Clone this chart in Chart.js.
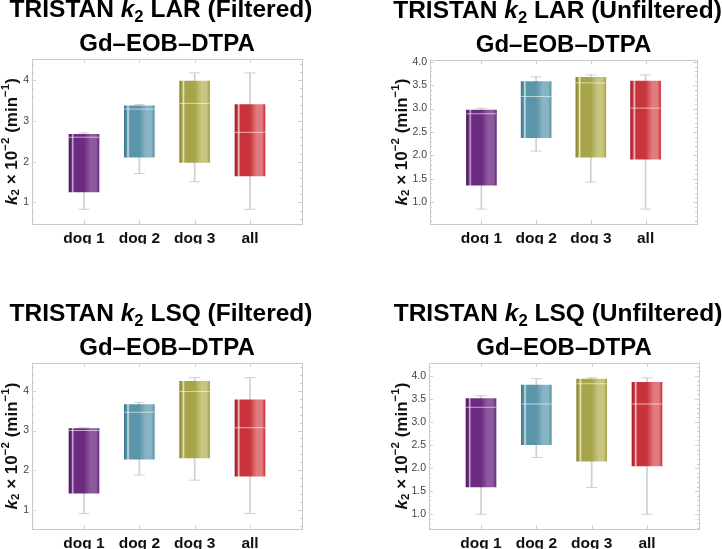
<!DOCTYPE html>
<html>
<head>
<meta charset="utf-8">
<script src="https://cdn.jsdelivr.net/npm/chart.js@4.4.1/dist/chart.umd.min.js"></script>
<style>
  body { margin: 0; background: #fff; }
  canvas { position: absolute; }
</style>
</head>
<body>
<canvas id="c1" width="361" height="275" style="left:0;top:0"></canvas>
<canvas id="c2" width="361" height="275" style="left:361px;top:0"></canvas>
<canvas id="c3" width="361" height="274" style="left:0;top:275px"></canvas>
<canvas id="c4" width="361" height="274" style="left:361px;top:275px"></canvas>
<script>
// categories and box-plot summaries (k2 x 10^-2, min^-1)
const categories = ["dog 1", "dog 2", "dog 3", "all"];
const catPos = [1, 2, 3, 4];

const larFilMin = [0.83, 1.71, 1.51, 0.83];
const larFilQ1  = [1.26, 2.11, 1.98, 1.65];
const larFilMed = [2.60, 3.29, 3.43, 2.72];
const larFilQ3  = [2.67, 3.37, 3.98, 3.40];
const larFilMax = [2.71, 3.40, 4.18, 4.18];

const larUnfMin = [0.85, 2.09, 1.43, 0.85];
const larUnfQ1  = [1.36, 2.38, 1.96, 1.92];
const larUnfMed = [2.89, 3.26, 3.55, 3.01];
const larUnfQ3  = [2.97, 3.58, 3.67, 3.59];
const larUnfMax = [3.01, 3.68, 3.72, 3.72];

const lsqFilMin = [0.91, 1.88, 1.75, 0.91];
const lsqFilQ1  = [1.42, 2.28, 2.31, 1.85];
const lsqFilMed = [3.00, 3.46, 3.98, 3.07];
const lsqFilQ3  = [3.05, 3.65, 4.24, 3.77];
const lsqFilMax = [3.07, 3.71, 4.33, 4.33];

const lsqUnfMin = [1.00, 2.23, 1.58, 1.00];
const lsqUnfQ1  = [1.59, 2.51, 2.15, 2.05];
const lsqUnfMed = [3.32, 3.39, 3.83, 3.39];
const lsqUnfQ3  = [3.51, 3.80, 3.93, 3.86];
const lsqUnfMax = [3.57, 3.94, 3.96, 3.96];

const ticksWhole = [1, 2, 3, 4];
const ticksHalf = [1.0, 1.5, 2.0, 2.5, 3.0, 3.5, 4.0];

const FONT = '"Liberation Sans", Arial, sans-serif';
const palettes = [
    { dark: "#4e1a62", base: "#6c2a80", light: "#8d5b9d", hl: "#c9b0d1" },
    { dark: "#3e778e", base: "#5b95aa", light: "#88b4c4", hl: "#d2e3e9" },
    { dark: "#87832e", base: "#a7a44a", light: "#c7c57f", hl: "#e8e7c0" },
    { dark: "#a41e28", base: "#c8343b", light: "#e27b7f", hl: "#f6c8ca" }
];
const BOX_W = 30;

const boxFill = function(ctx) {
    const pal = palettes[(ctx.dataIndex || 0) % 4];
    const chart = ctx.chart;
    if (ctx.dataIndex === undefined || !chart.scales.x) return pal.base;
    const px = chart.scales.x.getPixelForValue(catPos[ctx.dataIndex]);
    if (!isFinite(px)) return pal.base;
    const g = chart.ctx.createLinearGradient(px - BOX_W / 2, 0, px + BOX_W / 2, 0);
    g.addColorStop(0, pal.dark);
    g.addColorStop(0.08, pal.base);
    g.addColorStop(0.12, pal.hl);
    g.addColorStop(0.18, pal.base);
    g.addColorStop(0.5, pal.base);
    g.addColorStop(0.72, pal.light);
    g.addColorStop(0.9, pal.light);
    g.addColorStop(1, pal.base);
    return g;
};

// draw a run of text pieces (italic / sub / sup) centred on x
const richWidth = function(c, parts, size) {
    let w = 0;
    parts.forEach(p => {
        const s = (p.sub || p.sup) ? size * 0.68 : size;
        c.font = (p.it ? "italic " : "") + "bold " + s + "px " + FONT;
        w += c.measureText(p.t).width;
    });
    return w;
};
const drawRich = function(c, parts, x, y, size) {
    const w = richWidth(c, parts, size);
    let cx = x - w / 2;
    parts.forEach(p => {
        const s = (p.sub || p.sup) ? size * 0.68 : size;
        c.font = (p.it ? "italic " : "") + "bold " + s + "px " + FONT;
        const dy = p.sub ? size * 0.22 : (p.sup ? -size * 0.38 : 0);
        c.fillText(p.t, cx, y + dy);
        cx += c.measureText(p.t).width;
    });
};

const yLabelParts = [
    { t: "k", it: true }, { t: "2", sub: true }, { t: " \u00d7 10" }, { t: "\u22122", sup: true },
    { t: " (min" }, { t: "\u22121", sup: true }, { t: ")" }
];

const framePlugin = {
    id: "frame",
    beforeDatasetsDraw(chart, args, opts) {
        const c = chart.ctx, a = chart.chartArea, y = chart.scales.y, x = chart.scales.x;
        c.save();
        c.strokeStyle = "#c8c8c8";
        c.lineWidth = 1;
        c.strokeRect(Math.round(a.left) + 0.5, Math.round(a.top) + 0.5,
            Math.round(a.right - a.left), Math.round(a.bottom - a.top));
        c.strokeStyle = "#cfcfcf";
        c.beginPath();
        const step = opts.minor;
        for (let v = Math.ceil(y.min / step) * step; v <= y.max + 1e-9; v += step) {
            const py = Math.round(y.getPixelForValue(v)) + 0.5;
            const major = opts.major.some(m => Math.abs(m - v) < 1e-6);
            const len = major ? 4 : 2;
            c.moveTo(a.left, py); c.lineTo(a.left + len, py);
            c.moveTo(a.right, py); c.lineTo(a.right - len, py);
        }
        catPos.forEach(v => {
            const px = Math.round(x.getPixelForValue(v)) + 0.5;
            c.moveTo(px, a.bottom); c.lineTo(px, a.bottom - 4);
            c.moveTo(px, a.top); c.lineTo(px, a.top + 4);
        });
        c.stroke();
        c.restore();
    },
    afterDraw(chart, args, opts) {
        const c = chart.ctx, a = chart.chartArea;
        const mid = (a.left + a.right) / 2;
        c.save();
        c.fillStyle = "#000";
        c.textBaseline = "alphabetic";
        c.textAlign = "left";
        drawRich(c, [{ t: "TRISTAN " }, { t: "k", it: true }, { t: "2", sub: true }, { t: opts.title }],
            mid - 6, a.top - 42, 24.5);
        drawRich(c, [{ t: "Gd\u2013EOB\u2013DTPA" }], mid, a.top - 8.5, 24);
        c.translate(opts.yLabelX, (a.top + a.bottom) / 2);
        c.rotate(-Math.PI / 2);
        c.textBaseline = "middle";
        c.fillStyle = "#111";
        drawRich(c, yLabelParts, 0, 0, 17);
        c.restore();
    }
};

const boxPanel = function(elementId, p) {
    const canvas = document.getElementById(elementId);
    const H = canvas.height, W = canvas.width;
    const XH = 20;
    const whisker = catPos.map((x, i) => ({ x: x, y: [p.min[i], p.max[i]] }));
    const box = catPos.map((x, i) => ({ x: x, y: [p.q1[i], p.q3[i]] }));
    const caps = [];
    catPos.forEach((x, i) => { caps.push({ x: x, y: p.min[i] }); caps.push({ x: x, y: p.max[i] }); });
    const meds = catPos.map((x, i) => ({ x: x, y: p.med[i] }));

    new Chart(canvas, {
        type: "bar",
        data: {
            datasets: [
                { data: whisker, backgroundColor: "#d0d0d0", barThickness: 1, grouped: false, order: 4 },
                { type: "scatter", data: caps, pointStyle: "line", pointRadius: 5.5, pointHoverRadius: 5.5,
                  borderColor: "#d0d0d0", pointBorderWidth: 1, order: 3 },
                { data: box, backgroundColor: boxFill, barThickness: BOX_W, grouped: false, borderWidth: 0, order: 2 },
                { type: "scatter", data: meds, pointStyle: "line", pointRadius: BOX_W / 2, pointHoverRadius: BOX_W / 2,
                  borderColor: "rgba(255,255,255,0.6)", pointBorderWidth: 1, order: 1 }
            ]
        },
        options: {
            responsive: false,
            animation: false,
            layout: { padding: { top: p.area.top, right: W - p.area.right, bottom: H - p.area.bottom - XH, left: 0 } },
            plugins: {
                legend: { display: false },
                tooltip: { enabled: false },
                frame: { title: p.title, minor: p.minor, major: p.ticks, yLabelX: p.yLabelX }
            },
            scales: {
                x: {
                    type: "linear", min: 0.06, max: 4.94, offset: false,
                    grid: { display: false, drawTicks: false }, border: { display: false },
                    afterFit: s => { s.height = XH; },
                    afterBuildTicks: s => { s.ticks = catPos.map(v => ({ value: v })); },
                    ticks: {
                        padding: 5, color: "#111", maxRotation: 0,
                        font: { family: FONT, size: 15.5, weight: "bold" },
                        callback: v => categories[v - 1]
                    }
                },
                y: {
                    min: p.yMin, max: p.yMax,
                    grid: { display: false, drawTicks: false }, border: { display: false },
                    afterFit: s => { s.width = p.area.left; },
                    afterBuildTicks: s => { s.ticks = p.ticks.map(v => ({ value: v })); },
                    ticks: {
                        padding: 3, color: "#444",
                        font: { family: FONT, size: 10.5 },
                        callback: v => v.toFixed(p.decimals)
                    }
                }
            }
        },
        plugins: [framePlugin]
    });
};

boxPanel("c1", { title: " LAR (Filtered)", min: larFilMin, q1: larFilQ1, med: larFilMed, q3: larFilQ3, max: larFilMax,
    yMin: 0.47, yMax: 4.52, ticks: ticksWhole, decimals: 0, minor: 0.2, yLabelX: 12,
    area: { left: 32, right: 302, top: 59, bottom: 224 } });
boxPanel("c2", { title: " LAR (Unfiltered)", min: larUnfMin, q1: larUnfQ1, med: larUnfMed, q3: larUnfQ3, max: larUnfMax,
    yMin: 0.53, yMax: 4.04, ticks: ticksHalf, decimals: 1, minor: 0.1, yLabelX: 41,
    area: { left: 69, right: 336, top: 60, bottom: 224 } });
boxPanel("c3", { title: " LSQ (Filtered)", min: lsqFilMin, q1: lsqFilQ1, med: lsqFilMed, q3: lsqFilQ3, max: lsqFilMax,
    yMin: 0.52, yMax: 4.70, ticks: ticksWhole, decimals: 0, minor: 0.2, yLabelX: 12,
    area: { left: 32, right: 302, top: 88, bottom: 254 } });
boxPanel("c4", { title: " LSQ (Unfiltered)", min: lsqUnfMin, q1: lsqUnfQ1, med: lsqUnfMed, q3: lsqUnfQ3, max: lsqUnfMax,
    yMin: 0.68, yMax: 4.28, ticks: ticksHalf, decimals: 1, minor: 0.1, yLabelX: 41,
    area: { left: 68, right: 338, top: 88, bottom: 254 } });
</script>
</body>
</html>
